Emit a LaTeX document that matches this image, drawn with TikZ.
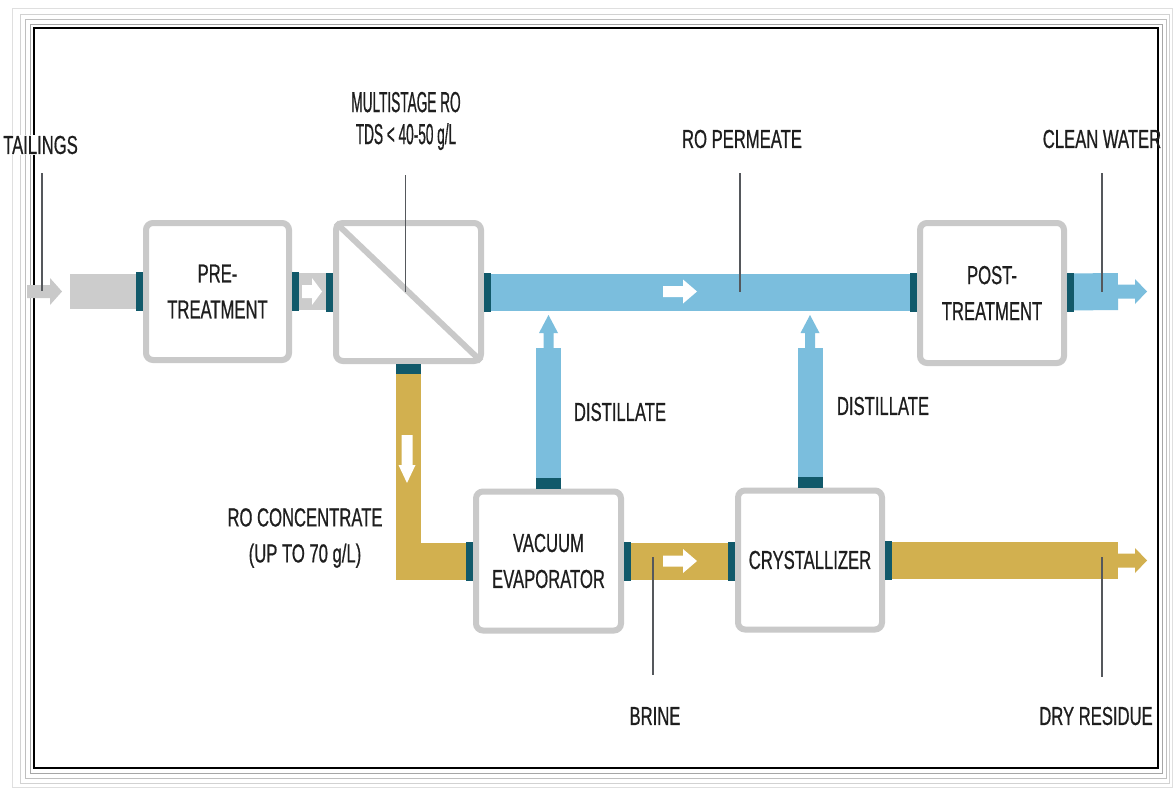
\documentclass[tikz,border=0pt]{standalone}
\usepackage{fontspec}
\setmainfont{Liberation Sans}[FakeStretch=0.64,FakeBold=0.6]
\newfontfamily\condfont{Liberation Sans}[FakeStretch=0.47,FakeBold=0.6]
\definecolor{boxgray}{HTML}{C9C9C9}
\definecolor{pipegray}{HTML}{CCCCCC}
\definecolor{stubteal}{HTML}{11596A}
\definecolor{pipeblue}{HTML}{7BBEDD}
\definecolor{pipegold}{HTML}{D2B04F}
\definecolor{leadgray}{HTML}{55585C}
\definecolor{txt}{HTML}{1E1E1E}
\tikzset{
  outarrow/.pic={\fill (0,-7) -- (17,-7) -- (17,-12.5) -- (29,0) -- (17,12.5) -- (17,7) -- (0,7) -- cycle;},
  distarrow/.pic={\fill (0,-5) -- (15,-5) -- (15,-9.5) -- (33,0) -- (15,9.5) -- (15,5) -- (0,5) -- cycle;},
  flowarrow/.pic={\fill (0,-5.5) -- (20,-5.5) -- (20,-12) -- (34,0) -- (20,12) -- (20,5.5) -- (0,5.5) -- cycle;},
  smallarrow/.pic={\fill (0,-6.5) -- (10,-6.5) -- (10,-13.5) -- (20,0) -- (10,13.5) -- (10,6.5) -- (0,6.5) -- cycle;},
  downarrow/.pic={\fill (0,-5.5) -- (30,-5.5) -- (30,-8.5) -- (48,0) -- (30,8.5) -- (30,5.5) -- (0,5.5) -- cycle;},
  inarrow/.pic={\fill (0,-6.5) -- (23,-6.5) -- (23,-13.5) -- (35,0) -- (23,13.5) -- (23,6.5) -- (0,6.5) -- cycle;}
}
\begin{document}
\begin{tikzpicture}[x=1pt,y=-1pt,
  box/.style={draw=boxgray, line width=6pt, rounded corners=7pt, fill=white, align=center, text=txt, font=\fontsize{26}{36}\selectfont, inner sep=0pt},
  lbl/.style={text=txt, font=\fontsize{26}{36}\selectfont, align=center, inner sep=0pt},
  pipe/.style={line width=37pt},
  stub/.style={draw=stubteal, line width=39pt},
  vstub/.style={draw=stubteal, line width=25pt},
  leader/.style={draw=leadgray, line width=1.8pt}]
\useasboundingbox (0,0) rectangle (1176,790);
\fill[white] (0,0) rectangle (1176,790);
% frame
\draw[gray!25, line width=0.8pt] (12,8) rectangle (1172,787);
\draw[gray!35, line width=0.8pt] (20,14) rectangle (1169,783);
\draw[gray!50, line width=0.8pt] (25,19) rectangle (1166,778);
\draw[gray!70, line width=0.8pt] (30,24) rectangle (1162,773);
\draw[black, line width=1.6pt] (34,28) rectangle (1158,768);

% boxes
\node[box, minimum width=143pt, minimum height=137pt] (pre) at (217.5,291.5) {PRE-\\TREATMENT};
\node[box, minimum width=145pt, minimum height=138pt] (ro) at (408.5,292) {};
\node[box, minimum width=144pt, minimum height=140pt] (post) at (992,293) {POST-\\TREATMENT};
\node[box, minimum width=145pt, minimum height=139pt] (evap) at (548.5,561) {VACUUM\\EVAPORATOR};
\node[box, minimum width=144pt, minimum height=139pt] (cryst) at (810,560) {CRYSTALLIZER};
\draw[boxgray, line width=6pt, shorten <=4pt, shorten >=4pt] (ro.north west) -- (ro.south east);

% named coordinates
\coordinate (inlet) at (70,291.5);
\coordinate (inpt) at (27,291.5);
\coordinate (cleanend) at (1118,291.5);
\coordinate (dryend) at (1118,560.5);
\coordinate (lvl) at (0,348);
\coordinate (elbow) at (ro.south |- evap.west);

% pipes
\draw[pipe, pipegray, line width=35pt] (inlet) -- (inlet -| pre.west);
\draw[pipe, pipegray] (pre.east) -- (pre.east -| ro.west);
\draw[pipe, pipeblue] (ro.east) -- (ro.east -| post.west);
\draw[pipe, pipeblue] (post.east |- ro.east) -- (cleanend);
\pic[pipeblue] at (cleanend) {outarrow};
\draw[pipegold, line width=25pt] (ro.south) -- ([yshift=-18.5pt]elbow);
\draw[pipe, pipegold] ([xshift=-12.5pt]elbow) -- (evap.west);
\draw[pipe, pipegold] (evap.east) -- (evap.east -| cryst.west);
\draw[pipe, pipegold] (cryst.east |- dryend) -- (dryend);
\pic[pipegold] at (dryend) {outarrow};
\draw[pipeblue, line width=25pt] (evap.north) -- (evap.north |- lvl);
\pic[pipeblue, rotate=90] at (evap.north |- lvl) {distarrow};
\draw[pipeblue, line width=25pt] (cryst.north) -- (cryst.north |- lvl);
\pic[pipeblue, rotate=90] at (cryst.north |- lvl) {distarrow};
\pic[color=boxgray] at (inpt) {inarrow};

% stubs
\draw[stub] (pre.west) -- ++(-7,0);
\draw[stub] (pre.east) -- ++(7,0);
\draw[stub] (ro.west) -- ++(-7,0);
\draw[stub] (ro.east) -- ++(7,0);
\draw[stub] (post.west |- ro.east) -- ++(-7,0);
\draw[stub] (post.east |- ro.east) -- ++(7,0);
\draw[stub] (evap.west) -- ++(-7,0);
\draw[stub] (evap.east) -- ++(7,0);
\draw[stub] (cryst.west |- evap.east) -- ++(-7,0);
\draw[stub] (cryst.east |- dryend) -- ++(7,0);
\draw[vstub] (ro.south) -- ++(0,10);
\draw[vstub] (evap.north) -- ++(0,-11);
\draw[vstub] (cryst.north) -- ++(0,-11);

% white flow arrows
\pic[white] at (302,291.5) {smallarrow};
\pic[white] at (663,291.5) {flowarrow};
\pic[white] at (663,561) {flowarrow};
\pic[white, rotate=-90] at (407,435) {downarrow};

% labels
\node[lbl, anchor=east, fill=white, inner sep=1pt] (tail) at (79,145) {TAILINGS};
\node[lbl, font=\condfont\fontsize{29}{32}\selectfont] (multi) at (406,121) {MULTISTAGE RO\\TDS < 40-50 g/L};
\node[lbl] (perm) at (742,139) {RO PERMEATE};
\node[lbl] (clean) at (1102,139) {CLEAN WATER};
\node[lbl] (dist1) at (620,412) {DISTILLATE};
\node[lbl] (dist2) at (883,406) {DISTILLATE};
\node[lbl] (conc) at (305,538) {RO CONCENTRATE\\(UP TO 70 g/L)};
\node[lbl] (brine) at (655,716) {BRINE};
\node[lbl] (dry) at (1096,716) {DRY RESIDUE};

% leader lines
\coordinate (t1) at (42,173); \coordinate (t2) at (42,291);
\coordinate (m1) at (405.5,175); \coordinate (m2) at (405.5,292);
\coordinate (p1) at (740,173); \coordinate (p2) at (740,292);
\coordinate (c1) at (1102,173); \coordinate (c2) at (1102,292);
\coordinate (b1) at (653,557); \coordinate (b2) at (653,675);
\coordinate (d1) at (1102,557); \coordinate (d2) at (1102,677);
\draw[leader] (t1) -- (t2);
\draw[leader] (m1) -- (m2);
\draw[leader] (p1) -- (p2);
\draw[leader] (c1) -- (c2);
\draw[leader] (b1) -- (b2);
\draw[leader] (d1) -- (d2);
\end{tikzpicture}
\end{document}
